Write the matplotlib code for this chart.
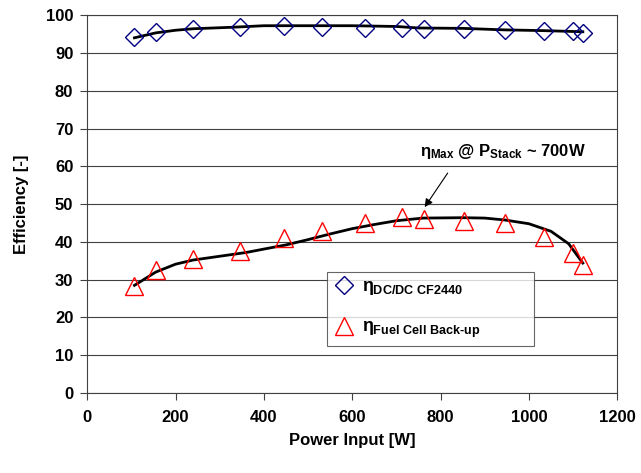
import numpy as np
import matplotlib
matplotlib.use('Agg')
import matplotlib.pyplot as plt

plt.rcParams['font.family'] = ['Liberation Sans', 'DejaVu Sans']
plt.rcParams['font.weight'] = 'bold'
plt.rcParams['mathtext.fontset'] = 'custom'
plt.rcParams['mathtext.rm'] = 'Liberation Sans:bold'
plt.rcParams['mathtext.it'] = 'Liberation Sans:bold'
plt.rcParams['mathtext.bf'] = 'Liberation Sans:bold'

# measured points
power = [107, 155, 240, 347, 446, 531, 630, 713, 762, 853, 945, 1033, 1099, 1122]
eta_dcdc = [94.1, 95.5, 96.4, 96.8, 97.0, 96.8, 96.6, 96.6, 96.4, 96.3, 96.1, 95.9, 95.7, 95.4]
eta_fc = [28.2, 32.6, 35.5, 37.5, 40.9, 42.8, 45.0, 46.5, 46.0, 45.5, 45.0, 41.3, 37.1, 33.8]

# trend curves (hand drawn)
trend_dcdc_x = [107, 155, 200, 240, 330, 400, 600, 700, 750, 850, 945, 1033, 1122]
trend_dcdc_y = [94.0, 95.3, 96.0, 96.4, 96.8, 97.2, 97.2, 97.0, 96.6, 96.5, 96.1, 95.9, 95.6]
trend_fc_x = [107, 155, 200, 240, 300, 360, 400, 450, 500, 550, 600, 650, 700, 760, 850, 900, 945, 1000, 1050, 1090, 1122]
trend_fc_y = [28.5, 32.0, 34.1, 35.2, 36.2, 37.2, 38.1, 39.2, 40.6, 42.1, 43.5, 44.6, 45.6, 46.3, 46.4, 46.3, 45.8, 44.8, 42.8, 39.5, 34.4]

fig = plt.figure(figsize=(6.41, 4.73), dpi=100)
ax = fig.add_axes([0.136, 0.169, 0.827, 0.799])

ax.plot(trend_dcdc_x, trend_dcdc_y, color='black', lw=2, zorder=3)
ax.plot(trend_fc_x, trend_fc_y, color='black', lw=2, zorder=3)
ax.plot(power, eta_dcdc, 'D', mfc='none', mec='#000080', ms=9, mew=1,
        label=r'$\eta_{\mathrm{DC/DC\ CF2440}}$', zorder=4)
ax.plot(power, eta_fc, '^', mfc='none', mec='red', ms=13, mew=1,
        label=r'$\eta_{\mathrm{Fuel\ Cell\ Back\text{-}up}}$', zorder=4)

# max efficiency note
ax.text(941, 63.8, r'$\eta_{\mathrm{Max}}$ @ P$_{\mathrm{Stack}}$ ~ 700W',
        ha='center', va='center', fontsize=12, fontweight='bold')
ax.annotate('', xy=(764, 49.2), xytext=(816, 58.2),
            arrowprops=dict(arrowstyle='-|>', color='black', lw=0.8, shrinkA=0, shrinkB=0,
                            mutation_scale=12))

ax.set_xlim(0, 1200)
ax.set_ylim(0, 100)
ax.set_xticks(np.arange(0, 1201, 200))
ax.set_yticks(np.arange(0, 101, 10))
ax.grid(axis='y', color='#404040', lw=0.8)
ax.set_axisbelow(True)
ax.tick_params(labelsize=12, direction='out', length=5, color='#404040', pad=5)
ax.tick_params(axis='x', pad=7)
for lbl in ax.get_xticklabels() + ax.get_yticklabels():
    lbl.set_fontweight('bold')
for s in ax.spines.values():
    s.set_color('#404040')
    s.set_linewidth(0.8)
ax.set_xlabel('Power Input [W]', fontsize=12, fontweight='bold', labelpad=6)
ax.set_ylabel('Efficiency [-]', fontsize=12, fontweight='bold', labelpad=12)

leg = ax.legend(loc='lower left', bbox_to_anchor=(0.452, 0.124, 0.391, 0.188), mode='expand',
                fontsize=13, frameon=True, fancybox=False, edgecolor='#404040',
                labelspacing=1.2, borderpad=0.35, handletextpad=0.4, handlelength=1.2,
                borderaxespad=0)
leg.get_frame().set_linewidth(0.8)

fig.savefig('out.png', dpi=100)
